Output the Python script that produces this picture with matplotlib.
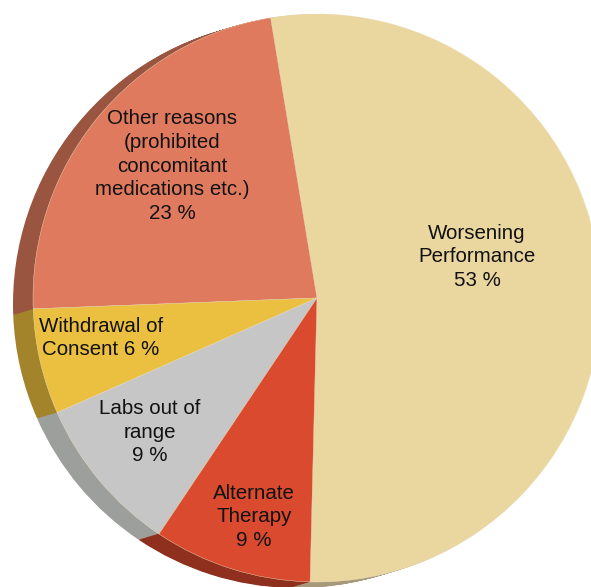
import numpy as np
import matplotlib.pyplot as plt

# data
labels = ["Worsening\nPerformance\n53 %",
          "Other reasons\n(prohibited\nconcomitant\nmedications etc.)\n23 %",
          "Withdrawal of\nConsent 6 %",
          "Labs out of\nrange\n9 %",
          "Alternate\nTherapy\n9 %"]
values = [53, 23, 6, 9, 9]
top_colors = ["#EAD7A0", "#E07A5E", "#EBBF40", "#C6C6C6", "#DA4A2E"]
side_colors = ["#A8987A", "#9A5540", "#A3842A", "#9D9F9D", "#8F301E"]

W, H = 591, 587
fig = plt.figure(figsize=(W / 100, H / 100), dpi=100)
ax = fig.add_axes([0, 0, 1, 1])

cx, cy, r = 317, 289, 284
start = -91.4
depth_x, depth_y = -20, -6

# extruded side: stack of shifted pies
for t in np.linspace(1, 0.05, 20):
    ax.pie(values, colors=side_colors, startangle=start, radius=r,
           center=(cx + depth_x * t, cy + depth_y * t),
           wedgeprops=dict(linewidth=0), frame=True)

ax.pie(values, colors=top_colors, startangle=start, radius=r, center=(cx, cy),
       wedgeprops=dict(linewidth=0.3, edgecolor="#efe2c0"), frame=True)

label_pos = [(477, 330), (172, 421), (101, 249), (150, 155), (254, 70)]
for txt, (x, y) in zip(labels, label_pos):
    ax.text(x, y, txt, ha="center", va="center", multialignment="center",
            fontsize=14.8, family="Liberation Sans", color="#111111",
            linespacing=1.32)

ax.set_xlim(0, W)
ax.set_ylim(0, H)
ax.set_aspect("equal")
ax.axis("off")

fig.savefig("out.png", dpi=100, facecolor="white")
